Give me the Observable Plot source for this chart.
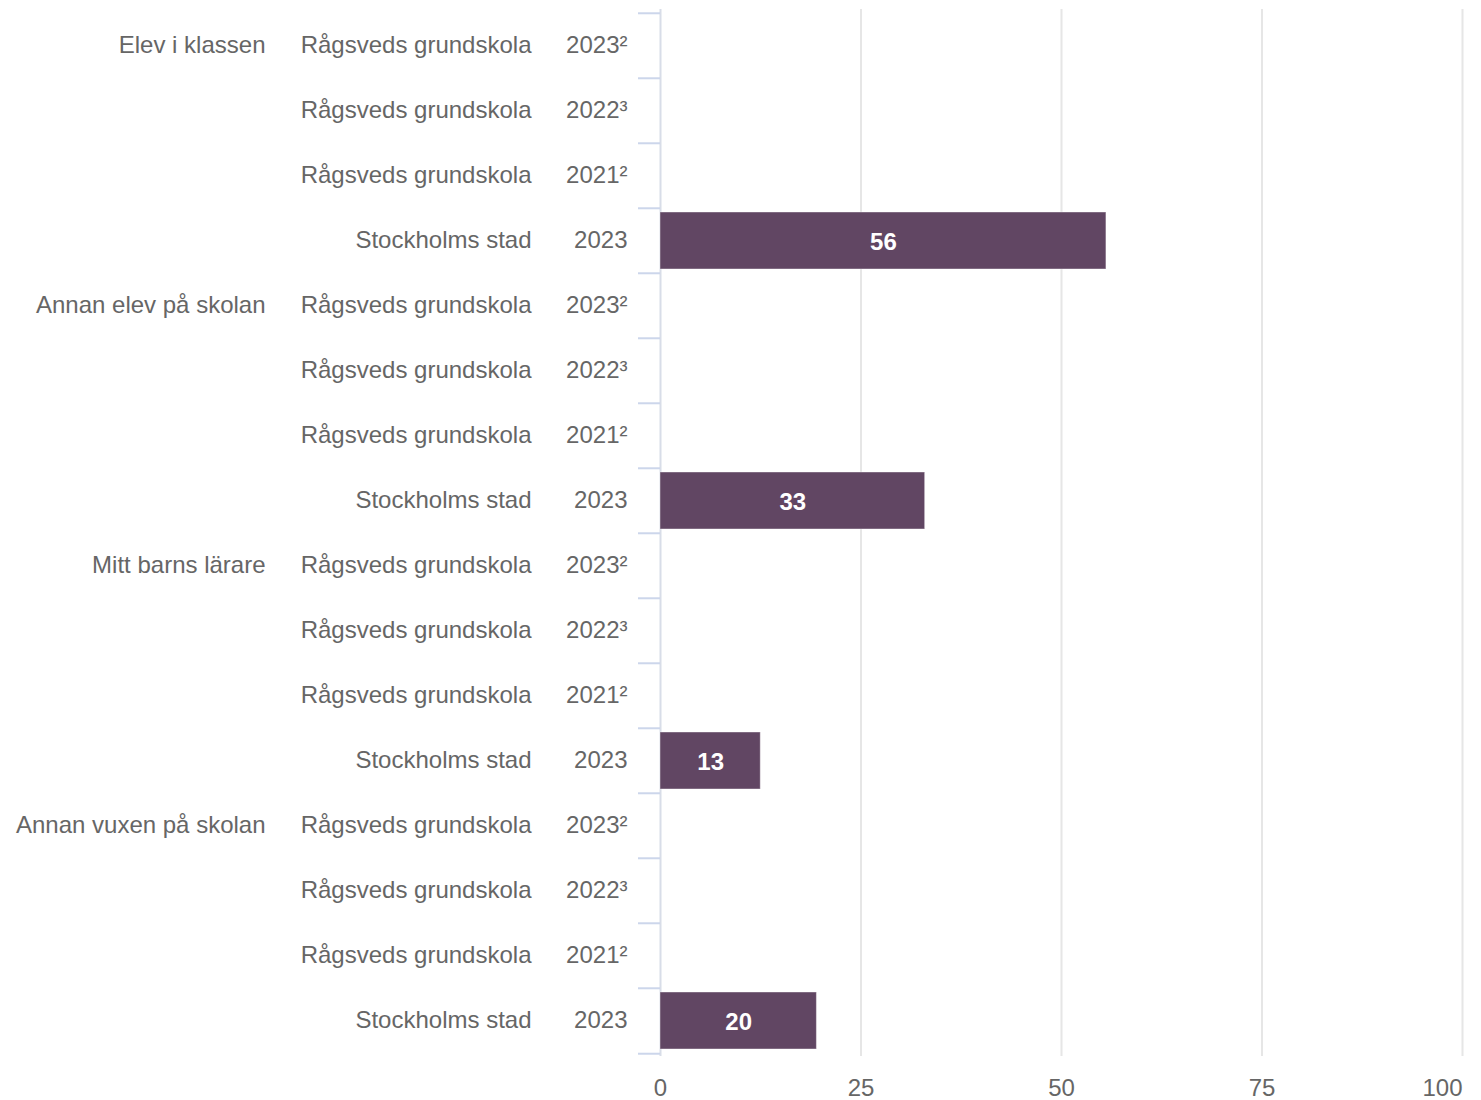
<!DOCTYPE html>
<html>
<head>
<meta charset="utf-8">
<script src="https://cdn.jsdelivr.net/npm/d3@7"></script>
<script src="https://cdn.jsdelivr.net/npm/@observablehq/plot@0.6"></script>
<style>
  html, body { margin: 0; padding: 0; background: #fff; }
  #chart svg { display: block; font-family: "Liberation Sans", Arial, sans-serif; }
</style>
</head>
<body>
<div id="chart"></div>
<script>
const categories = ["Elev i klassen", "Annan elev på skolan", "Mitt barns lärare", "Annan vuxen på skolan"];
const units = ["Rågsveds grundskola", "Rågsveds grundskola", "Rågsveds grundskola", "Stockholms stad"];
const years = ["2023²", "2022³", "2021²", "2023"];
// values per category, in the order of units/years (null = no bar)
const elevIKlassen = [null, null, null, 55.6];
const annanElev = [null, null, null, 33.0];
const mittBarnsLarare = [null, null, null, 12.5];
const annanVuxen = [null, null, null, 19.5];
const xTicks = [0, 25, 50, 75, 100];

const seriesByCategory = [elevIKlassen, annanElev, mittBarnsLarare, annanVuxen];

const rows = [];
categories.forEach((c, i) => {
  units.forEach((u, j) => {
    rows.push({key: `${i}-${j}`, category: c, unit: u, year: years[j], first: j === 0, value: seriesByCategory[i][j]});
  });
});
const keys = rows.map(r => r.key);
const byKey = new Map(rows.map(r => [r.key, r]));
const bars = rows.filter(r => r.value != null);

const W = 1481, H = 1100, mTop = 9, mBottom = 44, mLeft = 660, mRight = 19;
const step = (H - mTop - mBottom) / keys.length;
const textColor = "#666666";

const chart = Plot.plot({
  width: W,
  height: H,
  marginTop: mTop,
  marginBottom: mBottom,
  marginLeft: mLeft,
  marginRight: mRight,
  style: {fontFamily: "'Liberation Sans', Arial, sans-serif", fontSize: "24px", color: textColor, background: "#fff"},
  x: {domain: [0, 100], axis: null, label: null},
  y: {domain: keys, padding: 0, axis: null, label: null},
  marks: [
    Plot.gridX(xTicks.filter(t => t > 0), {stroke: "#e6e6e6", strokeOpacity: 1, strokeWidth: 2}),
    Plot.ruleX([0], {stroke: "#d8dde8", strokeWidth: 2}),
    // band-boundary ticks on the category axis
    Plot.ruleY(keys, {y: d => d, x1: 0, x2: 0, insetLeft: -22, dy: -step / 2, stroke: "#ccd6eb", strokeWidth: 2}),
    Plot.ruleY(keys.slice(-1), {y: d => d, x1: 0, x2: 0, insetLeft: -22, dy: step / 2, stroke: "#ccd6eb", strokeWidth: 2}),
    Plot.barX(bars, {x: "value", y: "key", fill: "#614663", insetTop: 4, insetBottom: 4, stroke: "#ffffff", strokeWidth: 1, strokeOpacity: 0.4}),
    Plot.text(bars, {x: d => d.value / 2, y: "key", text: d => String(Math.round(d.value)), fill: "#ffffff", fontSize: 24, fontWeight: "bold", dy: 1}),
    // year column
    Plot.axisY({ticks: keys, tickSize: 0, tickPadding: 33, tickFormat: k => byKey.get(k).year, fontSize: 24, color: textColor, dy: -1, label: null}),
    // unit column
    Plot.axisY({ticks: keys, tickSize: 0, tickPadding: 129, tickFormat: k => byKey.get(k).unit, fontSize: 24, color: textColor, dy: -1, label: null}),
    // category column
    Plot.axisY({ticks: rows.filter(r => r.first).map(r => r.key), tickSize: 0, tickPadding: 395, tickFormat: k => byKey.get(k).category, fontSize: 24, color: textColor, dy: -1, label: null}),
    Plot.axisX({ticks: xTicks.slice(0, -1), tickSize: 0, tickPadding: 22, fontSize: 24, color: textColor, label: null}),
    Plot.axisX({ticks: xTicks.slice(-1), tickSize: 0, tickPadding: 22, fontSize: 24, color: textColor, textAnchor: "end", label: null})
  ]
});
document.getElementById("chart").appendChild(chart);
</script>
</body>
</html>
